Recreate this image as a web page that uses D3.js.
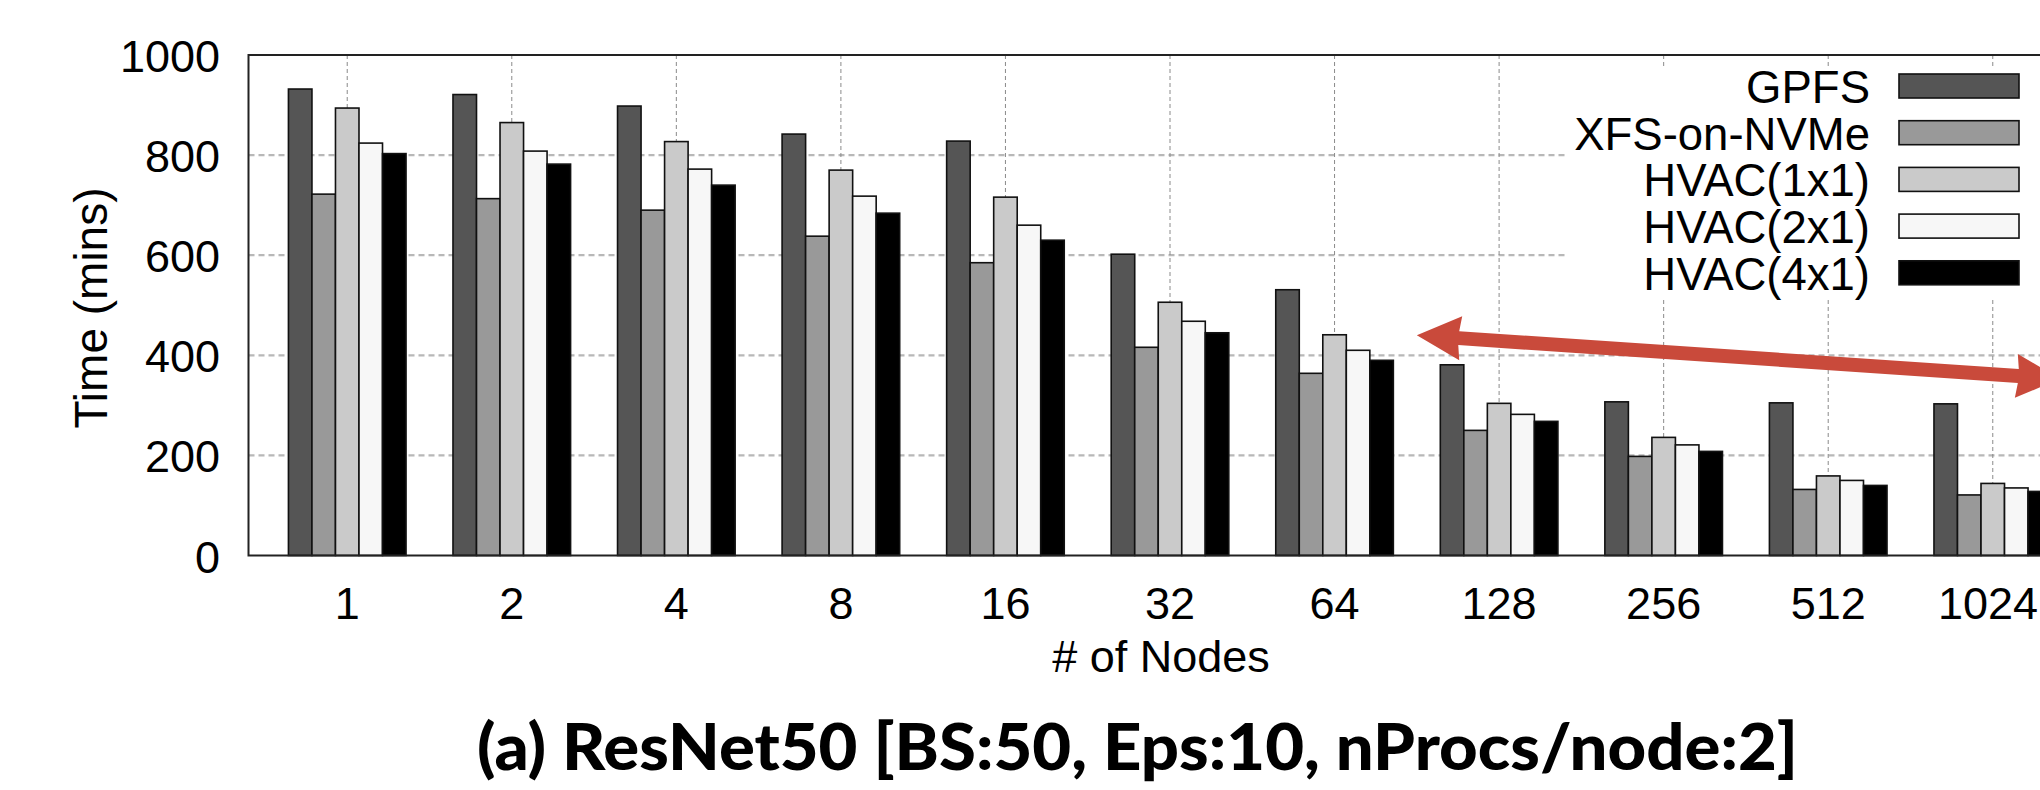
<!DOCTYPE html>
<html>
<head>
<meta charset="utf-8">
<script src="https://cdn.jsdelivr.net/npm/d3@7"></script>
<style>
  html, body { margin: 0; padding: 0; background: #fff; }
  svg { display: block; }
</style>
</head>
<body>
<svg id="chart" width="2040" height="790"></svg>
<script>
// ---- data ----
const categories = ["1", "2", "4", "8", "16", "32", "64", "128", "256", "512", "1024"];
const seriesNames = ["GPFS", "XFS-on-NVMe", "HVAC(1x1)", "HVAC(2x1)", "HVAC(4x1)"];
const gpfs  = [932, 921, 898, 842, 828, 602, 531, 381, 307, 305, 303];
const xfs   = [722, 713, 690, 638, 585, 416, 364, 250, 198, 132, 121];
const hvac1 = [894, 865, 827, 770, 716, 506, 441, 304, 236, 159, 144];
const hvac2 = [824, 808, 772, 718, 660, 468, 410, 282, 221, 150, 135];
const hvac4 = [803, 782, 740, 684, 630, 445, 390, 268, 208, 140, 128];
const yTicks = [0, 200, 400, 600, 800, 1000];
const yLabel = "Time (mins)";
const xLabel = "# of Nodes";
const title = "(a) ResNet50 [BS:50, Eps:10, nProcs/node:2]";
// annotation arrow, in data units (category index, minutes)
const arrowFrom = [6.5, 440];
const arrowTo = [10.41, 353];

const seriesValues = [gpfs, xfs, hvac1, hvac2, hvac4];
const fills = ["#555555", "#999999", "#cacaca", "#f7f7f7", "#000000"];

// ---- layout ----
const svg = d3.select("#chart");
const pLeft = 248.5, pRight = 2091.5, pTop = 55, pBottom = 555.5;
const font = "'Liberation Sans', Arial, Helvetica, sans-serif";

const x = d3.scalePoint().domain(categories).range([pLeft, pRight]).padding(0.6);
const xIdx = d3.scaleLinear().domain([0, categories.length - 1])
  .range([x(categories[0]), x(categories[categories.length - 1])]);
const groupHalf = 58.8;
const xs = d3.scaleBand().domain(seriesNames).range([-groupHalf, groupHalf]).padding(0);
const y = d3.scaleLinear().domain([0, 1000]).range([pBottom, pTop]);

// grid
const grid = svg.append("g");
grid.selectAll("line.h").data(yTicks.filter(d => d > 0 && d < 1000)).join("line")
  .attr("x1", pLeft).attr("x2", 2040)
  .attr("y1", d => y(d)).attr("y2", d => y(d))
  .attr("stroke", "#b8b8b8").attr("stroke-width", 2.2)
  .attr("stroke-dasharray", "6,4");
grid.selectAll("line.v").data(categories).join("line")
  .attr("x1", d => x(d)).attr("x2", d => x(d))
  .attr("y1", pTop).attr("y2", pBottom)
  .attr("stroke", "#8a8a8a").attr("stroke-width", 1)
  .attr("stroke-dasharray", "4,3");

// opaque legend background
svg.append("rect").attr("x", 1565).attr("y", 66).attr("width", 480).attr("height", 232)
  .attr("fill", "#fff");

// bars
const rows = [];
categories.forEach((c, i) => seriesNames.forEach((s, j) => rows.push({c, s, j, v: seriesValues[j][i]})));
svg.append("g").selectAll("rect").data(rows).join("rect")
  .attr("x", d => x(d.c) + xs(d.s))
  .attr("width", xs.bandwidth())
  .attr("y", d => y(d.v))
  .attr("height", d => y(0) - y(d.v))
  .attr("fill", d => fills[d.j])
  .attr("stroke", "#111").attr("stroke-width", 1.6);

// y tick labels
svg.append("g").selectAll("text").data(yTicks).join("text")
  .attr("x", 220).attr("y", d => y(d) + 17)
  .attr("text-anchor", "end")
  .attr("font-family", font).attr("font-size", 45)
  .text(d => d);

// x tick labels
svg.append("g").selectAll("text").data(categories).join("text")
  .attr("x", d => x(d)).attr("y", pBottom + 63)
  .attr("text-anchor", "middle")
  .attr("font-family", font).attr("font-size", 45)
  .text(d => d)
  .each(function (d) {
    const w = this.getComputedTextLength();
    const cx = Math.min(x(d), 2038 - w / 2);
    d3.select(this).attr("x", cx);
  });

// axis titles
svg.append("text").attr("x", 1161).attr("y", 672)
  .attr("text-anchor", "middle").attr("font-family", font).attr("font-size", 45)
  .text(xLabel);
svg.append("text").attr("transform", "translate(107,308) rotate(-90)")
  .attr("text-anchor", "middle").attr("font-family", font).attr("font-size", 46)
  .text(yLabel);

// border
svg.append("path")
  .attr("d", `M2040,${pTop}H${pLeft}V${pBottom}H2040`)
  .attr("fill", "none").attr("stroke", "#222").attr("stroke-width", 2);

// legend
const lg = svg.append("g");
seriesNames.forEach((s, j) => {
  const cy = 86 + j * 46.7;
  lg.append("rect").attr("x", 1899).attr("y", cy - 12).attr("width", 120).attr("height", 24)
    .attr("fill", fills[j]).attr("stroke", "#111").attr("stroke-width", 1.6);
  lg.append("text").attr("x", 1870).attr("y", cy + 17)
    .attr("text-anchor", "end").attr("font-family", font).attr("font-size", 45.5)
    .text(s);
});

// red double arrow
(function () {
  const x0 = xIdx(arrowFrom[0]), y0 = y(arrowFrom[1]);
  const x1 = xIdx(arrowTo[0]), y1 = y(arrowTo[1]);
  const dx = x1 - x0, dy = y1 - y0, L = Math.hypot(dx, dy);
  const ux = dx / L, uy = dy / L, nx = -uy, ny = ux;
  const hl = 44, hw = 22, sw = 7;
  const P = (a, b) => [x0 + ux * a + nx * b, y0 + uy * a + ny * b];
  const pts = [
    P(0, 0), P(hl, hw), P(hl - 2, sw), P(L - hl + 2, sw), P(L - hl, hw), P(L, 0),
    P(L - hl, -hw), P(L - hl + 2, -sw), P(hl - 2, -sw), P(hl, -hw)
  ];
  svg.append("polygon").attr("points", pts.map(p => p.join(",")).join(" "))
    .attr("fill", "#c94a3b");
})();

// title
svg.append("text").attr("x", 477).attr("y", 770)
  .attr("font-family", "Lato, 'Open Sans', sans-serif").attr("font-weight", 900)
  .attr("font-size", 64)
  .attr("textLength", 1321).attr("lengthAdjust", "spacingAndGlyphs")
  .text(title);
</script>
</body>
</html>
